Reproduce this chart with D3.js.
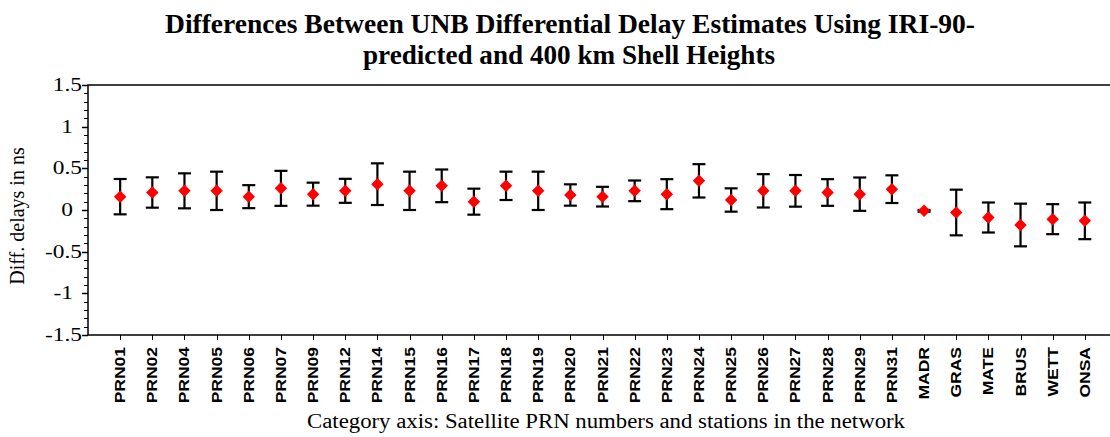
<!DOCTYPE html>
<html>
<head>
<meta charset="utf-8">
<script src="https://cdn.jsdelivr.net/npm/d3@7"></script>
<style>
  body { margin: 0; background: #fff; }
  svg { display: block; }
</style>
</head>
<body>
<div id="chart"></div>
<script>
// categories on the x axis
var categories = ["PRN01", "PRN02", "PRN04", "PRN05", "PRN06", "PRN07", "PRN09", "PRN12",
  "PRN14", "PRN15", "PRN16", "PRN17", "PRN18", "PRN19", "PRN20", "PRN21", "PRN22",
  "PRN23", "PRN24", "PRN25", "PRN26", "PRN27", "PRN28", "PRN29", "PRN31",
  "MADR", "GRAS", "MATE", "BRUS", "WETT", "ONSA"];

// mean differences (ns)
var values = [0.16, 0.21, 0.23, 0.23, 0.16, 0.26, 0.19, 0.23,
  0.31, 0.23, 0.29, 0.10, 0.29, 0.23, 0.18, 0.16, 0.23,
  0.19, 0.35, 0.12, 0.23, 0.23, 0.21, 0.19, 0.25,
  -0.01, -0.03, -0.09, -0.18, -0.11, -0.13];

// error bar half-widths (ns)
var errors = [0.212, 0.182, 0.21, 0.23, 0.138, 0.21, 0.138, 0.144,
  0.25, 0.23, 0.196, 0.156, 0.17, 0.23, 0.128, 0.118, 0.124,
  0.18, 0.20, 0.14, 0.20, 0.19, 0.16, 0.20, 0.166,
  0.01, 0.274, 0.18, 0.256, 0.18, 0.22];

var yTicks = [1.5, 1, 0.5, 0, -0.5, -1, -1.5];

var width = 1110, height = 437;
var margin = { top: 85, left: 88, bottom: 335, right: 1117 };
var serif = "'Liberation Serif', 'Times New Roman', serif";

var svg = d3.select("#chart").append("svg")
  .attr("width", width)
  .attr("height", height);

// x: categories at 1..n on a 0..n+1 scale
var x = d3.scaleLinear()
  .domain([0, categories.length + 1])
  .range([margin.left, margin.right]);

var y = d3.scaleLinear()
  .domain([-1.5, 1.5])
  .range([margin.bottom, margin.top]);

// title
var title = svg.append("g")
  .attr("font-family", serif)
  .attr("font-weight", "bold")
  .attr("font-size", 28)
  .attr("text-anchor", "middle");
title.append("text").attr("x", 570).attr("y", 33)
  .attr("textLength", 810).attr("lengthAdjust", "spacingAndGlyphs")
  .text("Differences Between UNB Differential Delay Estimates Using IRI-90-");
title.append("text").attr("x", 569).attr("y", 64)
  .attr("textLength", 412).attr("lengthAdjust", "spacingAndGlyphs")
  .text("predicted and 400 km Shell Heights");

// plot frame
svg.append("rect")
  .attr("x", margin.left)
  .attr("y", margin.top)
  .attr("width", margin.right - margin.left)
  .attr("height", margin.bottom - margin.top)
  .attr("fill", "none")
  .attr("stroke", "#000")
  .attr("stroke-width", 1.5);

// y minor ticks every 0.1
var minor = d3.range(-15, 16).map(function(d) { return d / 10; });
svg.append("g").selectAll("line")
  .data(minor)
  .join("line")
  .attr("x1", margin.left - 4)
  .attr("x2", margin.left)
  .attr("y1", function(d) { return Math.round(y(d)) + 0.5; })
  .attr("y2", function(d) { return Math.round(y(d)) + 0.5; })
  .attr("stroke", "#000");

// y major ticks and labels
var yLab = svg.append("g")
  .attr("font-family", serif)
  .attr("font-size", 18)
  .attr("fill", "#000");
yTicks.forEach(function(t) {
  var yy = y(t);
  svg.append("line")
    .attr("x1", margin.left - 6).attr("x2", margin.left)
    .attr("y1", Math.round(yy) + 0.5).attr("y2", Math.round(yy) + 0.5)
    .attr("stroke", "#000").attr("stroke-width", 1.5);
  var s = String(t);
  var xe = s.indexOf(".") >= 0 ? 82 : 73;
  yLab.append("text")
    .attr("transform", "translate(" + xe + "," + (yy + 6) + ") scale(1.3,1)")
    .attr("text-anchor", "end")
    .text(s);
});

// y axis title
svg.append("text")
  .attr("transform", "translate(24,216) rotate(-90)")
  .attr("text-anchor", "middle")
  .attr("font-family", serif)
  .attr("font-size", 20)
  .text("Diff. delays in ns");

// x ticks and labels
var xg = svg.append("g");
categories.forEach(function(c, i) {
  var xx = Math.round(x(i + 1)) + 0.5;
  xg.append("line")
    .attr("x1", xx).attr("x2", xx)
    .attr("y1", margin.bottom).attr("y2", margin.bottom + 5)
    .attr("stroke", "#000");
  xg.append("text")
    .attr("transform", "translate(" + (x(i + 1) + 5) + "," + (margin.bottom + 12) + ") rotate(-90) scale(1.25,1)")
    .attr("text-anchor", "end")
    .attr("font-family", "'Liberation Sans', Arial, sans-serif")
    .attr("font-weight", "bold")
    .attr("font-size", 14)
    .text(c);
});

// x axis title
svg.append("text")
  .attr("x", 606)
  .attr("y", 428)
  .attr("text-anchor", "middle")
  .attr("font-family", serif)
  .attr("font-size", 20)
  .attr("textLength", 598).attr("lengthAdjust", "spacingAndGlyphs")
  .text("Category axis: Satellite PRN numbers and stations in the network");

// error bars
var capW = 6.5;
var bars = svg.append("g")
  .attr("stroke", "#000")
  .attr("stroke-width", 2.2);
categories.forEach(function(c, i) {
  var xx = x(i + 1);
  var hi = y(values[i] + errors[i]);
  var lo = y(values[i] - errors[i]);
  bars.append("line").attr("x1", xx).attr("x2", xx).attr("y1", hi).attr("y2", lo);
  bars.append("line").attr("x1", xx - capW).attr("x2", xx + capW).attr("y1", hi).attr("y2", hi);
  bars.append("line").attr("x1", xx - capW).attr("x2", xx + capW).attr("y1", lo).attr("y2", lo);
});

// markers
var diamond = d3.symbol().type(d3.symbolSquare).size(78);
svg.append("g").selectAll("path")
  .data(values)
  .join("path")
  .attr("d", diamond)
  .attr("transform", function(d, i) { return "translate(" + x(i + 1) + "," + y(d) + ") rotate(45)"; })
  .attr("fill", "#ff0000");
</script>
</body>
</html>
